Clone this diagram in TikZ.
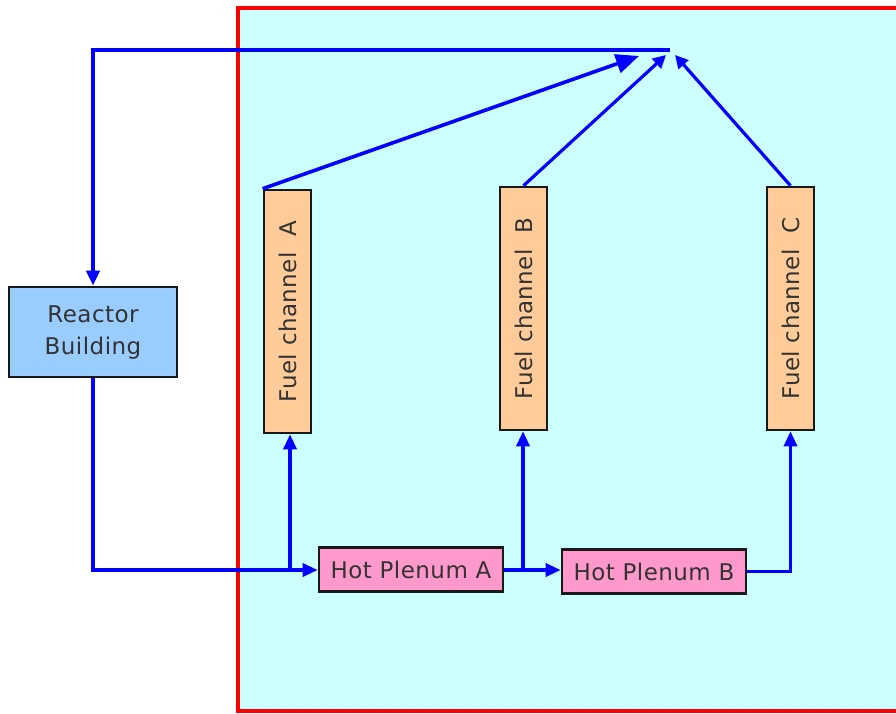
\documentclass[tikz,border=0pt]{standalone}
\usepackage{fontspec}
\setmainfont{DejaVu Sans}[LetterSpace=2]
\usetikzlibrary{arrows.meta}
\definecolor{bgcyan}{HTML}{CCFFFF}
\definecolor{redline}{HTML}{FF0000}
\definecolor{rbfill}{HTML}{99CCFF}
\definecolor{fuelfill}{HTML}{FFCC99}
\definecolor{plfill}{HTML}{FF99CC}
\definecolor{flowblue}{HTML}{0000FF}
\definecolor{txt}{HTML}{333333}
\tikzset{
  box/.style={draw=black!90, line width=2.6pt, inner sep=0pt, anchor=center},
  rbbox/.style={box, fill=rbfill, minimum width=168pt, minimum height=90pt},
  fuelbox/.style={box, fill=fuelfill, minimum width=47pt, minimum height=243pt},
  plbox/.style={box, fill=plfill, minimum width=184pt, minimum height=44pt},
  lbl/.style={text=txt, font=\fontsize{23}{32}\selectfont, inner sep=0pt, align=center},
  flow/.style={draw=flowblue, line width=3.4pt, -{Triangle[length=15pt,width=13pt]}},
  flowtop/.style={draw=flowblue, line width=3.2pt, -{Triangle[length=13pt,width=13pt]}},
  flowbig/.style={draw=flowblue, line width=3.6pt, -{Triangle[length=23pt,width=19pt]}},
}
\begin{document}
\begin{tikzpicture}[x=1pt,y=-1pt]
\useasboundingbox (0,0) rectangle (896,713);
\clip (0,0) rectangle (896,713);
% containment region
\path[fill=bgcyan, draw=redline, line width=4.5pt] (238,8) rectangle (930,711);
% nodes
\node[rbbox] (rb) at (93,332) {};
\node[lbl] at (rb) {Reactor\\Building};
\node[fuelbox] (fa) at (287.5,311.5) {};
\node[lbl, rotate=90] at (fa) {Fuel channel\ \ A};
\node[fuelbox] (fb) at (523.5,308.5) {};
\node[lbl, rotate=90] at (fb) {Fuel channel\ \ B};
\node[fuelbox] (fc) at (790.5,308.5) {};
\node[lbl, rotate=90] at (fc) {Fuel channel\ \ C};
\node[plbox] (hpa) at (411,569.5) {};
\node[lbl] at (hpa) {Hot Plenum A};
\node[plbox] (hpb) at (654,571.5) {};
\node[lbl] at (hpb) {Hot Plenum B};
% junctions / free ends
\coordinate (apex) at (670,50);
\coordinate (ja) at (290,570);
\coordinate (jb) at (523,570);
\coordinate (tA) at (639,56);
\coordinate (tB) at (666,55);
\coordinate (tC) at (675,55);
% connectors
\draw[flow] (rb.south) |- (hpa.west |- ja);
\draw[flow] (ja) -- (ja |- fa.south);
\draw[flow] (hpa.east |- jb) -- (hpb.west |- jb);
\draw[flow] (jb) -- (jb |- fb.south);
\draw[flow] (hpb.east) -| (fc.south);
\draw[flowbig] (fa.north west) -- (tA);
\draw[flowtop] (fb.north) -- (tB);
\draw[flowtop] (fc.north) -- (tC);
\draw[flow, line width=3.8pt] (apex) -| (rb.north);
\end{tikzpicture}
\end{document}
